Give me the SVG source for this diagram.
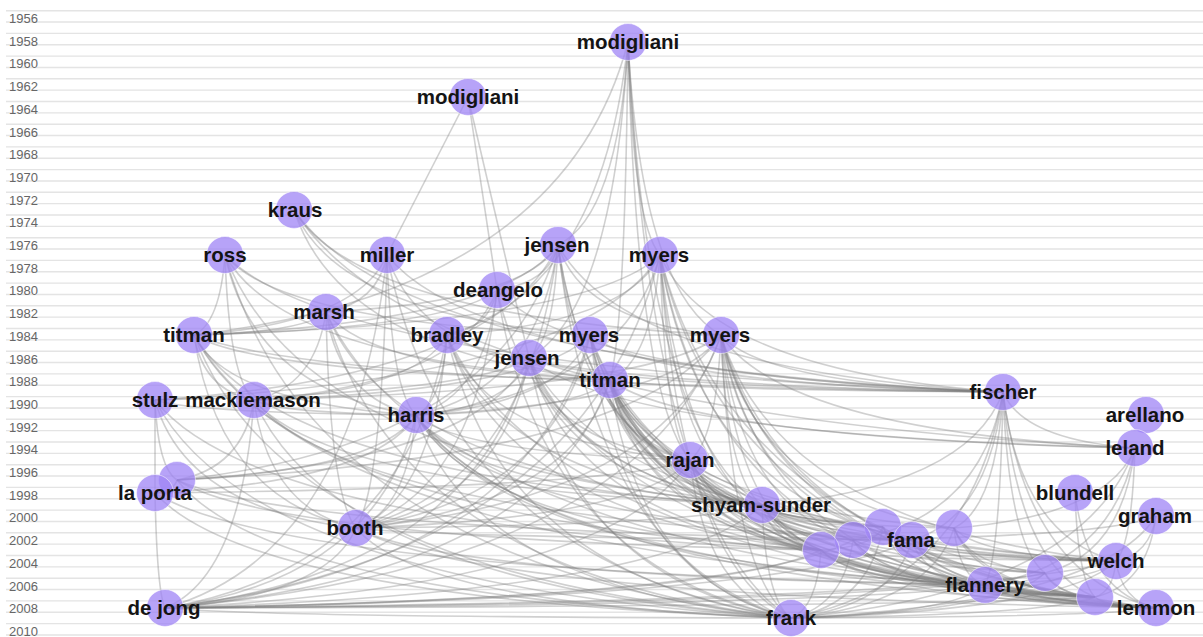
<svg xmlns="http://www.w3.org/2000/svg" width="1203" height="637" viewBox="0 0 1203 637">
<style>
  .grid{fill:none;stroke:#e4e4e4;stroke-width:1.4}
  .yr{font-family:"Liberation Sans",Arial,sans-serif;font-size:13px;fill:#666}
  #edges path{fill:none;stroke:#7c7c7c;stroke-opacity:.36;stroke-width:1.6}
  .node circle{fill:#9f84f5;fill-opacity:.75;stroke:#fff;stroke-opacity:.5;stroke-width:1}
  .node text{font-family:"Liberation Sans",Arial,sans-serif;font-size:20.5px;font-weight:bold;fill:#141414;text-anchor:middle}
</style>
<rect width="1203" height="637" fill="#fff"/>

<!-- one rule per year, 1955 to 2010 -->
<path class="grid" d="M6 10.7H1203M6 22.05H1203M6 33.4H1203M6 44.75H1203M6 56.1H1203M6 67.45H1203M6 78.8H1203M6 90.15H1203M6 101.5H1203M6 112.85H1203M6 124.2H1203M6 135.55H1203M6 146.9H1203M6 158.25H1203M6 169.6H1203M6 180.95H1203M6 192.3H1203M6 203.65H1203M6 215H1203M6 226.35H1203M6 237.7H1203M6 249.05H1203M6 260.4H1203M6 271.75H1203M6 283.1H1203M6 294.45H1203M6 305.8H1203M6 317.15H1203M6 328.5H1203M6 339.85H1203M6 351.2H1203M6 362.55H1203M6 373.9H1203M6 385.25H1203M6 396.6H1203M6 407.95H1203M6 419.3H1203M6 430.65H1203M6 442H1203M6 453.35H1203M6 464.7H1203M6 476.05H1203M6 487.4H1203M6 498.75H1203M6 510.1H1203M6 521.45H1203M6 532.8H1203M6 544.15H1203M6 555.5H1203M6 566.85H1203M6 578.2H1203M6 589.55H1203M6 600.9H1203M6 612.25H1203M6 623.6H1203M6 634.95H1203"/>

<!-- year axis -->
<g id="years" class="yr">
  <text x="9" y="23">1956</text><text x="9" y="45.7">1958</text><text x="9" y="68.4">1960</text>
  <text x="9" y="91.1">1962</text><text x="9" y="113.8">1964</text><text x="9" y="136.5">1966</text>
  <text x="9" y="159.2">1968</text><text x="9" y="181.9">1970</text><text x="9" y="204.6">1972</text>
  <text x="9" y="227.3">1974</text><text x="9" y="250">1976</text><text x="9" y="272.7">1978</text>
  <text x="9" y="295.4">1980</text><text x="9" y="318.1">1982</text><text x="9" y="340.8">1984</text>
  <text x="9" y="363.5">1986</text><text x="9" y="386.2">1988</text><text x="9" y="408.9">1990</text>
  <text x="9" y="431.6">1992</text><text x="9" y="454.3">1994</text><text x="9" y="477">1996</text>
  <text x="9" y="499.7">1998</text><text x="9" y="522.4">2000</text><text x="9" y="545.1">2002</text>
  <text x="9" y="567.8">2004</text><text x="9" y="590.5">2006</text><text x="9" y="613.2">2008</text>
  <text x="9" y="635.9">2010</text>
</g>

<!-- citation links: each curve runs from the older paper down to the newer one -->
<g id="edges">
  <!-- modigliani 1958 -->
  <path d="M628 42Q563 291 194 335"/><path d="M628 42Q618 215 558 245"/><path d="M628 42Q633 223 660 255"/>
  <path d="M628 42Q613 311 529 358"/><path d="M628 42Q601 291 447 335"/><path d="M628 42Q625 329 610 380"/>
  <path d="M628 42Q637 397 690 460"/><path d="M628 42Q642 291 721 335"/><path d="M628 42Q648 436 762 505"/>
  <path d="M628 42Q652 532 791 618"/>
  <!-- modigliani 1963 -->
  <path d="M468 97L387 255"/><path d="M468 97L497 290"/><path d="M468 97L529 358"/>
  <!-- kraus -->
  <path d="M294 210Q400 365 1003 392"/><path d="M294 210Q358 316 721 335"/><path d="M294 210Q338 316 590 335"/>
  <path d="M294 210Q341 355 610 380"/><path d="M294 210Q420 412 1135 448"/>
  <!-- ross -->
  <path d="M225 255Q220 323 194 335"/><path d="M225 255Q254 391 416 415"/><path d="M225 255Q229 378 254 400"/>
  <path d="M225 255Q283 361 610 380"/><path d="M225 255Q306 468 762 505"/><path d="M225 255Q310 564 791 618"/>
  <path d="M225 255Q280 323 590 335"/><path d="M225 255Q342 371 1003 392"/>
  <!-- miller -->
  <path d="M387 255Q382 487 356 528"/><path d="M387 255Q358 323 194 335"/><path d="M387 255Q378 303 326 312"/>
  <path d="M387 255Q479 371 1003 392"/><path d="M387 255Q391 391 416 415"/><path d="M387 255Q420 361 610 380"/>
  <path d="M387 255Q448 564 791 618"/><path d="M387 255Q354 555 165 608"/>
  <!-- jensen 1976 -->
  <path d="M558 245Q549 283 497 290"/><path d="M558 245Q503 322 194 335"/><path d="M558 245Q523 302 326 312"/>
  <path d="M558 245Q537 390 416 415"/><path d="M558 245Q498 377 155 400"/><path d="M558 245Q501 445 177 480"/>
  <path d="M558 245Q528 486 356 528"/><path d="M558 245Q554 341 529 358"/><path d="M558 245Q578 428 690 460"/>
  <path d="M558 245Q589 466 762 505"/><path d="M558 245Q593 562 791 618"/><path d="M558 245Q625 370 1003 392"/>
  <path d="M558 245Q582 322 721 335"/><path d="M558 245Q597 504 821 550"/>
  <!-- myers 1977 -->
  <path d="M660 255Q590 323 194 335"/><path d="M660 255Q628 323 447 335"/><path d="M660 255Q623 391 416 415"/>
  <path d="M660 255Q584 378 155 400"/><path d="M660 255Q665 429 690 460"/><path d="M660 255Q675 468 762 505"/>
  <path d="M660 255Q684 506 821 550"/><path d="M660 255Q698 497 912 540"/><path d="M660 255Q709 536 985 585"/>
  <path d="M660 255Q680 564 791 618"/><path d="M660 255Q725 546 1095 597"/><path d="M660 255Q711 371 1003 392"/>
  <path d="M660 255Q652 361 610 380"/><path d="M660 255Q586 555 165 608"/><path d="M660 255Q734 555 1156 608"/>
  <!-- deangelo -->
  <path d="M497 290Q452 328 194 335"/><path d="M497 290Q490 328 447 335"/><path d="M497 290Q485 396 416 415"/>
  <path d="M497 290Q573 377 1003 392"/><path d="M497 290Q541 569 791 618"/><path d="M497 290Q461 384 254 400"/>
  <path d="M497 290Q476 492 356 528"/><path d="M497 290Q537 473 762 505"/>
  <!-- marsh -->
  <path d="M326 312Q306 332 194 335"/><path d="M326 312Q330 496 356 528"/><path d="M326 312Q340 400 416 415"/>
  <path d="M326 312Q369 370 610 380"/><path d="M326 312Q315 387 254 400"/><path d="M326 312Q391 476 762 505"/>
  <path d="M326 312Q396 572 791 618"/><path d="M326 312Q441 554 1095 597"/>
  <!-- titman 1984 -->
  <path d="M194 335Q203 390 254 400"/><path d="M194 335Q227 403 416 415"/><path d="M194 335Q315 384 1003 392"/>
  <path d="M194 335Q279 480 762 505"/><path d="M194 335Q256 373 610 380"/><path d="M194 335Q218 499 356 528"/>
  <path d="M194 335Q284 576 791 618"/><path d="M194 335Q288 518 821 550"/><path d="M194 335Q313 548 985 585"/>
  <!-- bradley -->
  <path d="M447 335Q418 390 254 400"/><path d="M447 335Q442 403 416 415"/><path d="M447 335Q530 384 1003 392"/>
  <path d="M447 335Q433 499 356 528"/><path d="M447 335Q494 480 762 505"/><path d="M447 335Q499 576 791 618"/>
  <path d="M447 335Q483 441 690 460"/><path d="M447 335Q503 518 821 550"/><path d="M447 335Q405 567 165 608"/>
  <path d="M447 335Q553 567 1156 608"/>
  <!-- myers 1984 -->
  <path d="M590 335Q540 390 254 400"/><path d="M590 335Q564 403 416 415"/><path d="M590 335Q652 384 1003 392"/>
  <path d="M590 335L721 335"/><path d="M590 335Q605 441 690 460"/><path d="M590 335Q616 480 762 505"/>
  <path d="M590 335Q625 518 821 550"/><path d="M590 335Q634 498 883 527"/><path d="M590 335Q649 548 985 585"/>
  <path d="M590 335Q620 576 791 618"/><path d="M590 335Q666 558 1095 597"/><path d="M590 335Q675 567 1156 608"/>
  <path d="M590 335Q555 499 356 528"/><path d="M590 335Q526 567 165 608"/>
  <!-- myers & majluf 1984 -->
  <path d="M721 335Q675 403 416 415"/><path d="M721 335Q763 384 1003 392"/><path d="M721 335Q783 431 1135 448"/>
  <path d="M721 335Q716 441 690 460"/><path d="M721 335Q727 480 762 505"/><path d="M721 335Q736 518 821 550"/>
  <path d="M721 335Q741 509 853 540"/><path d="M721 335Q750 509 912 540"/><path d="M721 335Q756 499 954 528"/>
  <path d="M721 335Q780 527 1116 561"/><path d="M721 335Q761 548 985 585"/><path d="M721 335Q770 537 1045 573"/>
  <path d="M721 335Q777 558 1095 597"/><path d="M721 335Q786 567 1156 608"/><path d="M721 335Q732 576 791 618"/>
  <path d="M721 335Q666 499 356 528"/><path d="M721 335Q638 567 165 608"/><path d="M721 335Q639 458 177 480"/>
  <path d="M721 335Q651 390 254 400"/>
  <!-- jensen 1986 -->
  <path d="M529 358Q512 407 416 415"/><path d="M529 358Q473 394 155 400"/><path d="M529 358Q476 462 177 480"/>
  <path d="M529 358Q503 503 356 528"/><path d="M529 358Q474 571 165 608"/><path d="M529 358Q600 387 1003 392"/>
  <path d="M529 358Q620 435 1135 448"/><path d="M529 358Q553 445 690 460"/><path d="M529 358Q564 483 762 505"/>
  <path d="M529 358Q573 521 821 550"/><path d="M529 358Q582 502 883 527"/><path d="M529 358Q568 579 791 618"/>
  <path d="M529 358Q623 571 1156 608"/><path d="M529 358Q617 531 1116 561"/>
  <!-- titman 1988 -->
  <path d="M610 380Q581 410 416 415"/><path d="M610 380Q689 438 1135 448"/><path d="M610 380Q622 448 690 460"/>
  <path d="M610 380Q633 486 762 505"/><path d="M610 380Q642 525 821 550"/><path d="M610 380Q646 516 853 540"/>
  <path d="M610 380Q651 505 883 527"/><path d="M610 380Q655 516 912 540"/><path d="M610 380Q662 506 954 528"/>
  <path d="M610 380Q686 534 1116 561"/><path d="M610 380Q675 544 1045 573"/><path d="M610 380Q683 565 1095 597"/>
  <path d="M610 380Q666 554 985 585"/><path d="M610 380Q692 574 1156 608"/><path d="M610 380Q637 582 791 618"/>
  <path d="M610 380Q543 574 165 608"/><path d="M610 380Q572 506 356 528"/><path d="M610 380Q669 390 1003 392"/>
  <!-- harris -->
  <path d="M416 415Q380 470 177 480"/><path d="M416 415Q377 481 155 493"/><path d="M416 415Q407 511 356 528"/>
  <path d="M416 415Q378 579 165 608"/><path d="M416 415Q468 492 762 505"/><path d="M416 415Q477 530 821 550"/>
  <path d="M416 415Q490 521 912 540"/><path d="M416 415Q472 588 791 618"/><path d="M416 415Q501 560 985 585"/>
  <path d="M416 415Q527 579 1156 608"/><path d="M416 415Q518 570 1095 597"/><path d="M416 415Q457 453 690 460"/>
  <!-- stulz -->
  <path d="M155 400L155 493"/><path d="M155 400Q158 468 177 480"/><path d="M155 400Q194 413 416 415"/>
  <path d="M155 400Q185 509 356 528"/><path d="M155 400Q250 585 791 618"/><path d="M155 400Q255 528 821 550"/>
  <!-- mackiemason -->
  <path d="M254 400Q241 577 165 608"/><path d="M254 400Q243 468 177 480"/><path d="M254 400Q269 509 356 528"/>
  <path d="M254 400Q335 585 791 618"/><path d="M254 400Q330 489 762 505"/><path d="M254 400Q353 519 912 540"/>
  <path d="M254 400Q278 413 416 415"/>
  <!-- fischer -->
  <path d="M1003 392Q1023 440 1135 448"/><path d="M1003 392Q967 488 762 505"/><path d="M1003 392Q989 518 912 540"/>
  <path d="M1003 392Q996 508 954 528"/><path d="M1003 392Q1000 556 985 585"/><path d="M1003 392Q1009 546 1045 573"/>
  <path d="M1003 392Q1020 536 1116 561"/><path d="M1003 392Q1017 566 1095 597"/><path d="M1003 392Q1026 576 1156 608"/>
  <path d="M1003 392Q971 584 791 618"/><path d="M1003 392Q981 518 853 540"/>
  <!-- leland -->
  <path d="M1135 448Q1122 554 1045 573"/><path d="M1135 448Q1132 544 1116 561"/><path d="M1135 448Q1113 564 985 585"/>
  <path d="M1135 448Q1083 593 791 618"/><path d="M1135 448Q1108 516 954 528"/>
  <!-- rajan -->
  <path d="M690 460Q610 488 155 493"/><path d="M690 460Q701 498 762 505"/><path d="M690 460Q640 518 356 528"/>
  <path d="M690 460Q710 537 821 550"/><path d="M690 460Q723 528 912 540"/><path d="M690 460Q754 546 1116 561"/>
  <path d="M690 460Q734 566 985 585"/><path d="M690 460Q751 576 1095 597"/><path d="M690 460Q760 586 1156 608"/>
  <path d="M690 460Q705 594 791 618"/><path d="M690 460Q611 586 165 608"/><path d="M690 460Q719 517 883 527"/>
  <!-- la porta -->
  <path d="M177 480Q174 491 155 493"/><path d="M177 480Q269 597 791 618"/><path d="M177 480Q274 540 821 550"/>
  <path d="M177 480Q287 531 912 540"/>
  <path d="M155 493Q157 591 165 608"/><path d="M155 493Q250 599 791 618"/><path d="M155 493Q280 571 985 585"/>
  <!-- blundell -->
  <path d="M1075 493Q1078 581 1095 597"/><path d="M1075 493Q1087 591 1156 608"/>
  <!-- shyam-sunder -->
  <path d="M762 505Q771 543 821 550"/><path d="M762 505Q776 535 853 540"/><path d="M762 505Q785 535 912 540"/>
  <path d="M762 505Q815 553 1116 561"/><path d="M762 505Q804 563 1045 573"/><path d="M762 505Q812 583 1095 597"/>
  <path d="M762 505Q795 573 985 585"/><path d="M762 505Q821 593 1156 608"/><path d="M762 505Q766 601 791 618"/>
  <path d="M762 505Q672 593 165 608"/><path d="M762 505Q701 525 356 528"/><path d="M762 505Q780 524 883 527"/>
  <path d="M762 505Q791 525 954 528"/>
  <!-- graham -->
  <path d="M1156 516Q1150 554 1116 561"/><path d="M1156 516Q1111 536 853 540"/><path d="M1156 516Q1147 585 1095 597"/>
  <path d="M1156 516Q1101 603 791 618"/>
  <!-- booth -->
  <path d="M356 528Q327 596 165 608"/><path d="M356 528Q421 605 791 618"/><path d="M356 528Q439 538 912 540"/>
  <path d="M356 528Q476 596 1156 608"/><path d="M356 528Q450 577 985 585"/>
  <!-- 2000-2003 cluster -->
  <path d="M883 527Q874 547 821 550"/><path d="M883 527Q918 556 1116 561"/><path d="M883 527Q915 587 1095 597"/>
  <path d="M883 527Q924 596 1156 608"/><path d="M883 527Q869 604 791 618"/><path d="M883 527Q898 576 985 585"/>
  <path d="M954 528Q978 556 1116 561"/><path d="M954 528Q975 587 1095 597"/><path d="M954 528Q959 577 985 585"/>
  <path d="M954 528Q984 596 1156 608"/><path d="M954 528Q930 605 791 618"/><path d="M954 528Q968 566 1045 573"/>
  <path d="M853 540Q892 558 1116 561"/><path d="M853 540Q898 598 1156 608"/><path d="M853 540Q889 589 1095 597"/>
  <path d="M853 540Q844 606 791 618"/><path d="M853 540Q873 578 985 585"/><path d="M853 540Q750 598 165 608"/>
  <path d="M912 540Q943 558 1116 561"/><path d="M912 540Q939 589 1095 597"/><path d="M912 540Q949 598 1156 608"/>
  <path d="M912 540Q923 578 985 585"/><path d="M912 540Q894 606 791 618"/><path d="M912 540Q932 568 1045 573"/>
  <path d="M912 540Q800 598 165 608"/>
  <path d="M821 550Q865 559 1116 561"/><path d="M821 550Q862 590 1095 597"/><path d="M821 550Q871 599 1156 608"/>
  <path d="M821 550Q817 608 791 618"/><path d="M821 550Q846 580 985 585"/><path d="M821 550Q723 599 165 608"/>
  <!-- welch -->
  <path d="M1116 561Q1113 592 1095 597"/><path d="M1116 561Q1122 601 1156 608"/><path d="M1116 561Q1067 610 791 618"/>
  <path d="M1116 561Q1096 581 985 585"/><path d="M1116 561Q973 601 165 608"/>
  <!-- 2005 -->
  <path d="M1045 573Q1053 593 1095 597"/><path d="M1045 573Q1062 603 1156 608"/><path d="M1045 573Q1007 611 791 618"/>
  <path d="M1045 573Q1036 583 985 585"/><path d="M1045 573Q913 603 165 608"/>
  <!-- flannery -->
  <path d="M985 585Q1002 595 1095 597"/><path d="M985 585Q1011 605 1156 608"/><path d="M985 585Q956 613 791 618"/>
  <path d="M985 585Q862 605 165 608"/>
  <!-- 2007 -->
  <path d="M1095 597Q1104 606 1156 608"/><path d="M1095 597Q1049 615 791 618"/><path d="M1095 597Q955 606 165 608"/>
  <!-- 2008 -->
  <path d="M165 608Q259 617 791 618"/><path d="M1156 608Q1101 617 791 618"/>
</g>

<!-- papers -->
<g id="n-modigliani-1958" class="node"><circle cx="628" cy="42" r="18.5"/><text x="628" y="48.5">modigliani</text></g>
<g id="n-modigliani-1963" class="node"><circle cx="468" cy="97" r="18.5"/><text x="468" y="103.5">modigliani</text></g>
<g id="n-kraus" class="node"><circle cx="294" cy="210" r="18.5"/><text x="295" y="216.5">kraus</text></g>
<g id="n-ross" class="node"><circle cx="225" cy="255" r="18.5"/><text x="225" y="261.5">ross</text></g>
<g id="n-miller" class="node"><circle cx="387" cy="255" r="18.5"/><text x="387" y="261.5">miller</text></g>
<g id="n-jensen-1976" class="node"><circle cx="558" cy="245" r="18.5"/><text x="557" y="251.5">jensen</text></g>
<g id="n-myers-1977" class="node"><circle cx="660" cy="255" r="18.5"/><text x="659" y="261.5">myers</text></g>
<g id="n-deangelo" class="node"><circle cx="497" cy="290" r="18.5"/><text x="498" y="296.5">deangelo</text></g>
<g id="n-marsh" class="node"><circle cx="326" cy="312" r="18.5"/><text x="324" y="318.5">marsh</text></g>
<g id="n-titman-1984" class="node"><circle cx="194" cy="335" r="18.5"/><text x="194" y="341.5">titman</text></g>
<g id="n-bradley" class="node"><circle cx="447" cy="335" r="18.5"/><text x="447" y="341.5">bradley</text></g>
<g id="n-myers-1984" class="node"><circle cx="590" cy="335" r="18.5"/><text x="589" y="341.5">myers</text></g>
<g id="n-myers-majluf" class="node"><circle cx="721" cy="335" r="18.5"/><text x="720" y="341.5">myers</text></g>
<g id="n-jensen-1986" class="node"><circle cx="529" cy="358" r="18.5"/><text x="527" y="364.5">jensen</text></g>
<g id="n-titman-1988" class="node"><circle cx="610" cy="380" r="18.5"/><text x="610" y="386.5">titman</text></g>
<g id="n-harris" class="node"><circle cx="416" cy="415" r="18.5"/><text x="416" y="421.5">harris</text></g>
<g id="n-stulz" class="node"><circle cx="155" cy="400" r="18.5"/><text x="155" y="406.5">stulz</text></g>
<g id="n-mackiemason" class="node"><circle cx="254" cy="400" r="18.5"/><text x="253" y="406.5">mackiemason</text></g>
<g id="n-fischer" class="node"><circle cx="1003" cy="392" r="18.5"/><text x="1003" y="398.5">fischer</text></g>
<g id="n-arellano" class="node"><circle cx="1146" cy="415" r="18.5"/><text x="1145" y="421.5">arellano</text></g>
<g id="n-leland" class="node"><circle cx="1135" cy="448" r="18.5"/><text x="1135" y="454.5">leland</text></g>
<g id="n-rajan" class="node"><circle cx="690" cy="460" r="18.5"/><text x="690" y="466.5">rajan</text></g>
<g id="n-laporta-1997" class="node"><circle cx="177" cy="480" r="18.5"/></g>
<g id="n-laporta-1998" class="node"><circle cx="155" cy="493" r="18.5"/><text x="155" y="499.5">la porta</text></g>
<g id="n-blundell" class="node"><circle cx="1075" cy="493" r="18.5"/><text x="1075" y="499.5">blundell</text></g>
<g id="n-shyam-sunder" class="node"><circle cx="762" cy="505" r="18.5"/><text x="761" y="511.5">shyam-sunder</text></g>
<g id="n-graham" class="node"><circle cx="1156" cy="516" r="18.5"/><text x="1155" y="522.5">graham</text></g>
<g id="n-booth" class="node"><circle cx="356" cy="528" r="18.5"/><text x="355" y="534.5">booth</text></g>
<g id="n-2000" class="node"><circle cx="883" cy="527" r="18.5"/></g>
<g id="n-2001" class="node"><circle cx="853" cy="540" r="18.5"/></g>
<g id="n-2002a" class="node"><circle cx="821" cy="550" r="18.5"/></g>
<g id="n-2002b" class="node"><circle cx="954" cy="528" r="18.5"/></g>
<g id="n-fama" class="node"><circle cx="912" cy="540" r="18.5"/><text x="911" y="546.5">fama</text></g>
<g id="n-welch" class="node"><circle cx="1116" cy="561" r="18.5"/><text x="1116" y="567.5">welch</text></g>
<g id="n-2005" class="node"><circle cx="1045" cy="573" r="18.5"/></g>
<g id="n-2007" class="node"><circle cx="1095" cy="597" r="18.5"/></g>
<g id="n-flannery" class="node"><circle cx="985" cy="585" r="18.5"/><text x="985" y="591.5">flannery</text></g>
<g id="n-dejong" class="node"><circle cx="165" cy="608" r="18.5"/><text x="164" y="614.5">de jong</text></g>
<g id="n-frank" class="node"><circle cx="791" cy="618" r="18.5"/><text x="791" y="624.5">frank</text></g>
<g id="n-lemmon" class="node"><circle cx="1156" cy="608" r="18.5"/><text x="1156" y="614.5">lemmon</text></g>
</svg>
